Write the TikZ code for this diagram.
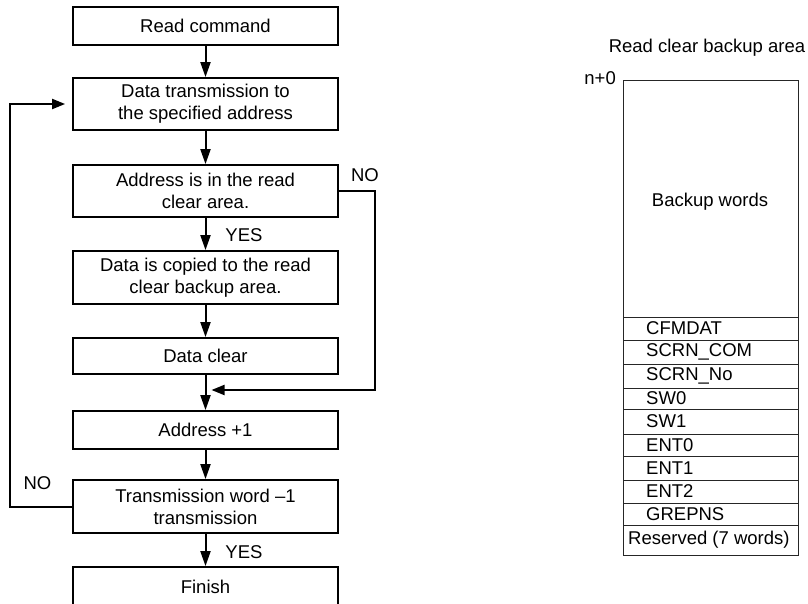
\documentclass[tikz,border=0pt]{standalone}
\usepackage{fontspec}
\setmainfont{Liberation Sans}
\usetikzlibrary{arrows.meta}
\begin{document}
\begin{tikzpicture}[x=1pt,y=-1pt,
  font=\fontsize{18.5}{22}\selectfont,
  flowbox/.style={draw,line width=1.8pt,minimum width=265pt,align=center,inner sep=0pt},
  arr/.style={line width=2pt,-{Triangle[length=15pt,width=10pt]}},
  sidearr/.style={line width=2pt,-{Triangle[length=13pt,width=10pt]}},
  thin/.style={line width=0.9pt,draw=black!85},
  lbl/.style={inner sep=0pt}]
\useasboundingbox (0,0) rectangle (808,604);

% flowchart steps
\node[flowbox,minimum height=38pt] (b1) at (205.5,26) {Read command};
\node[flowbox,minimum height=52pt] (b2) at (205.5,104) {Data transmission to\\the specified address};
\node[flowbox,minimum height=52pt] (b3) at (205.5,191) {Address is in the read\\clear area.};
\node[flowbox,minimum height=53pt] (b4) at (205.5,277.5) {Data is copied to the read\\clear backup area.};
\node[flowbox,minimum height=36pt] (b5) at (205.5,356) {Data clear};
\node[flowbox,minimum height=38pt] (b6) at (205.5,430) {Address +1};
\node[flowbox,minimum height=53pt] (b7) at (205.5,506.5) {Transmission word –1\\transmission};
\node[flowbox,minimum height=40pt] (b8) at (205.5,587) {Finish};

% main flow
\draw[arr] (b1) -- (b2);
\draw[arr] (b2) -- (b3);
\draw[arr] (b3) -- (b4);
\draw[arr] (b4) -- (b5);
\draw[arr] (b5) -- (b6);
\draw[arr] (b6) -- (b7);
\draw[arr] (b7) -- (b8);

% "not in area" bypass into the junction above Address +1
\coordinate (jn) at (205.5,390);
\coordinate (nr) at (375,191);
\draw[sidearr] (b3.east) -- (nr) |- ([xshift=6pt]jn);

% loop back while words remain
\coordinate (nl) at (10,506.5);
\draw[sidearr] (b7.west) -- (nl) |- ([xshift=-7pt]b2.west);

% branch labels
\node[lbl] (no1) at (365,175) {NO};
\node[lbl] (yes1) at (244,235) {YES};
\node[lbl] (no2) at (37.5,483) {NO};
\node[lbl] (yes2) at (244,552) {YES};

% read clear backup area map
\node[lbl] (title) at (707,48) {Read clear backup area};
\node[lbl,anchor=east] (n0) at (616,78) {n+0};
\draw[thin] (623,80) rectangle (798,555);
\node[lbl] (bw) at (710,202) {Backup words};
\foreach \y in {317,340,364,388,409,434,456,480,503,525}
  \draw[thin] (623,\y) -- (798,\y);
\node[lbl,anchor=west] (r1) at (646,328.5) {CFMDAT};
\node[lbl,anchor=west] (r2) at (646,352) {SCRN\_COM};
\node[lbl,anchor=west] (r3) at (646,376) {SCRN\_No};
\node[lbl,anchor=west] (r4) at (646,398.5) {SW0};
\node[lbl,anchor=west] (r5) at (646,421.5) {SW1};
\node[lbl,anchor=west] (r6) at (646,445) {ENT0};
\node[lbl,anchor=west] (r7) at (646,468) {ENT1};
\node[lbl,anchor=west] (r8) at (646,491.5) {ENT2};
\node[lbl,anchor=west] (r9) at (646,514) {GREPNS};
\node[lbl,anchor=west] (r10) at (628,540) {Reserved (7 words)};
\end{tikzpicture}
\end{document}
